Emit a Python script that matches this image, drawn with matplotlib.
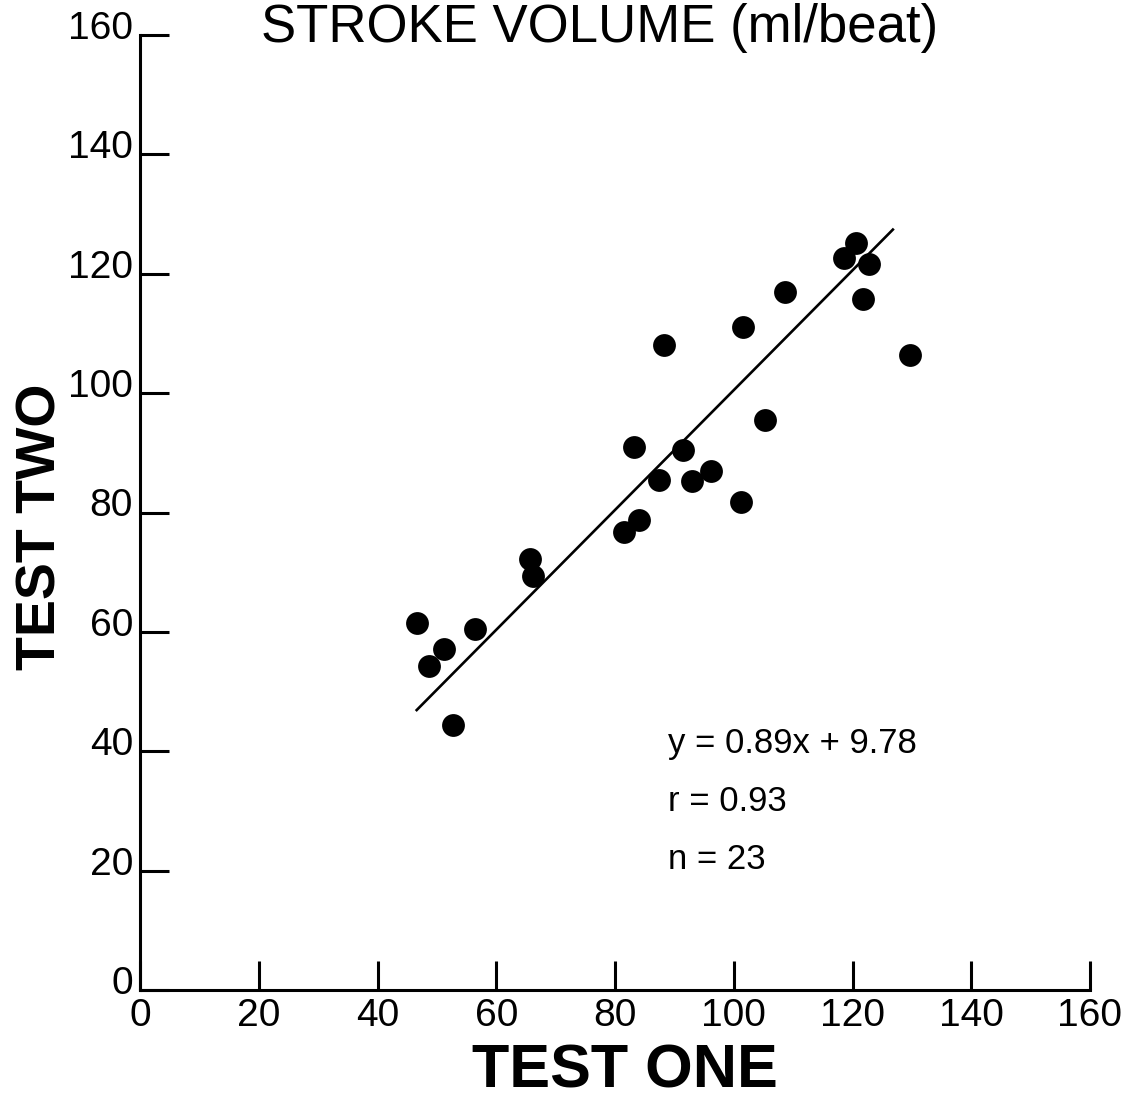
import matplotlib
matplotlib.use("Agg")
import matplotlib.pyplot as plt
from matplotlib.transforms import ScaledTranslation

plt.rcParams['font.family'] = ['Liberation Sans', 'DejaVu Sans']

# Data (stroke volume, ml/beat)
test_one = [46.6, 51.2, 48.7, 56.5, 52.7, 65.6, 66.2,
            88.3, 101.5, 83.2, 91.4, 105.2, 87.4, 92.9, 96.1, 101.2, 84.0, 81.5,
            120.6, 118.6, 122.8, 108.6, 121.7, 129.6]
test_two = [61.5, 57.2, 54.3, 60.5, 44.4, 72.2, 69.3,
            108.0, 111.1, 91.0, 90.5, 95.5, 85.4, 85.3, 86.9, 81.7, 78.7, 76.8,
            125.1, 122.6, 121.7, 117.0, 115.7, 106.4]

# Regression line as drawn
line_x = [46.6, 126.8]
line_y = [46.9, 127.4]

ticks = [0, 20, 40, 60, 80, 100, 120, 140, 160]
tick_labels = [str(t) for t in ticks]

stats_lines = ["y = 0.89x + 9.78", "r = 0.93", "n = 23"]

W, H = 1127, 1120
fig = plt.figure(figsize=(W / 100, H / 100), dpi=100)
ax = fig.add_axes([140 / W, 1 - 990 / H, (1090 - 140) / W, (990 - 35) / H])

ax.scatter(test_one, test_two, s=270, color='black', zorder=3, linewidths=0)
ax.plot(line_x, line_y, color='black', linewidth=1.9, zorder=2)

ax.set_xlim(0, 160)
ax.set_ylim(0, 160)
ax.set_xticks(ticks)
ax.set_yticks(ticks)
ax.set_xticklabels(tick_labels, fontsize=28)
ax.set_yticklabels(tick_labels, fontsize=28)

for s in ['top', 'right']:
    ax.spines[s].set_visible(False)
for s in ['left', 'bottom']:
    ax.spines[s].set_linewidth(2.2)

ax.tick_params(axis='both', direction='in', length=21, width=2.2, color='black')
ax.tick_params(axis='x', pad=6)
ax.tick_params(axis='y', pad=5)

# y tick labels sit slightly above their ticks
off = ScaledTranslation(0, 10 / 100, fig.dpi_scale_trans)
for lab in ax.get_yticklabels():
    lab.set_transform(lab.get_transform() + off)

fig.text(625 / W, 1 - 1088 / H, "TEST ONE", fontsize=44, fontweight='bold',
         ha='center', va='baseline')
fig.text(42 / W, 1 - 527 / H, "TEST TWO", fontsize=40, fontweight='bold',
         ha='center', va='center', rotation=90)

fig.text(0.532, 1 - 42 / H, "STROKE VOLUME (ml/beat)", fontsize=38,
         ha='center', va='baseline')

for i, txt in enumerate(stats_lines):
    ax.text(89.0, 41.3 - i * 9.7, txt, fontsize=25, ha='left', va='center')

fig.savefig("out.png", dpi=100, facecolor='white')
